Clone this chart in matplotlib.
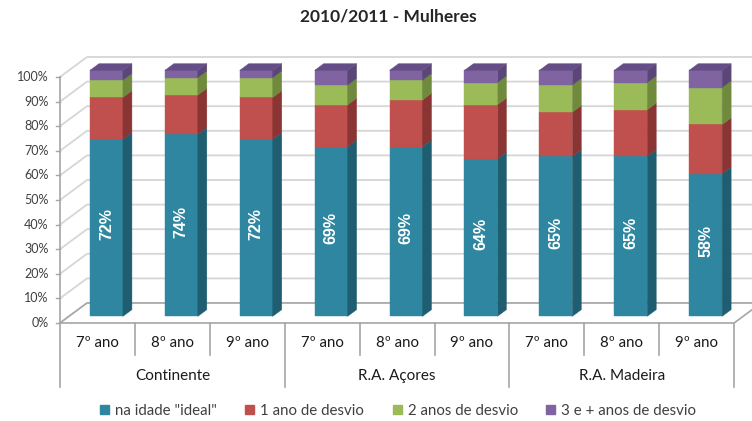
import numpy as np
import matplotlib.pyplot as plt
from matplotlib.patches import Polygon, Patch

# data (percent of each bar)
groups = ['Continente', 'R.A. Açores', 'R.A. Madeira']
years = ['7º ano', '8º ano', '9º ano']
series_names = ['na idade "ideal"', '1 ano de desvio', '2 anos de desvio', '3 e + anos de desvio']
ideal = [72, 74, 72, 69, 69, 64, 65, 65, 58]
desvio1 = [17, 16, 17, 17, 19, 22, 18, 19, 20]
desvio2 = [7, 7, 8, 8, 8, 9, 11, 11, 15]
desvio3 = [4, 3, 3, 6, 4, 5, 6, 5, 7]
yticks = [0, 10, 20, 30, 40, 50, 60, 70, 80, 90, 100]

front_colors = ['#2E86A0', '#C0504D', '#9BBB59', '#8064A2']
side_colors = ['#1F5E70', '#8A3533', '#6F8A3C', '#5B4777']
top_colors = ['#267489', '#A94542', '#84A34A', '#654E87']

# pseudo 3d projection: depth z in [0, 1] shifts up and right
DX = 27 / 74.9   # category units for full depth
DY = 20 / 2.46   # percent units for full depth


def proj(x, v, z):
  return (x + z * DX, v + z * DY)


def face(ax, pts, color, zorder=3):
  ax.add_patch(Polygon([proj(*p) for p in pts], closed=True, facecolor=color,
                       edgecolor=color, linewidth=0.3, zorder=zorder))


fig = plt.figure(figsize=(7.52, 4.21), dpi=100)
ax = fig.add_axes([0, 0, 1, 1])
# pixel mapping: x=-0.5 at px 60, 74.9 px per category; v=0 at py 323, 2.46 px per %
ax.set_xlim(-0.5 - 60 / 74.9, -0.5 + (752 - 60) / 74.9)
ax.set_ylim((323 - 421) / 2.46, 323 / 2.46)
ax.axis('off')

n = len(ideal)
x0, x1 = -0.5, n - 0.5
grid_col = '#D6D6D6'
edge_col = '#A6A6A6'

# gridlines on side wall and back wall
for v in yticks:
  pts = [proj(x0, v, 0), proj(x0, v, 1), proj(x1, v, 1)]
  ax.plot([p[0] for p in pts], [p[1] for p in pts], color=grid_col, lw=1.3, zorder=1)
  ax.plot([x0 - 0.05, x0], [v, v], color=edge_col, lw=1, zorder=2)
  ax.text(x0 - 0.15, v, '%d%%' % v, ha='right', va='center', fontsize=9,
          color='#404040', family='Lato')

# floor
floor = [proj(x0, 0, 0), proj(x1, 0, 0), proj(x1, 0, 1), proj(x0, 0, 1)]
ax.add_patch(Polygon(floor, closed=True, facecolor='white', edgecolor=edge_col, lw=1.2, zorder=1.5))
ax.plot([x0, x0], [0, 100], color=edge_col, lw=1.2, zorder=2)

# bars
hw = 0.22
za, zb = 1 / 3, 2 / 3
stack = np.array([ideal, desvio1, desvio2, desvio3], dtype=float)
bottoms = np.vstack([np.zeros(n), np.cumsum(stack, axis=0)[:-1]])
for i in range(n):
  for s in range(stack.shape[0]):
    b = bottoms[s, i]
    t = b + stack[s, i]
    face(ax, [(i - hw, b, za), (i + hw, b, za), (i + hw, t, za), (i - hw, t, za)], front_colors[s])
    face(ax, [(i + hw, b, za), (i + hw, b, zb), (i + hw, t, zb), (i + hw, t, za)], side_colors[s])
  top = bottoms[-1, i] + stack[-1, i]
  face(ax, [(i - hw, top, za), (i + hw, top, za), (i + hw, top, zb), (i - hw, top, zb)], top_colors[-1])
  cx, cy = proj(i, ideal[i] / 2 + 1.5, za)
  ax.text(cx, cy, '%d%%' % ideal[i], rotation=90, ha='center', va='center', color='white',
          fontsize=11.5, fontweight='bold', family='Liberation Sans', zorder=5)

# category table under the floor
for k in range(n + 1):
  low = -26 if k % 3 == 0 else -13
  ax.plot([x0 + k, x0 + k], [0, low], color=edge_col, lw=1.2, zorder=2)
for i in range(n):
  ax.text(i, -8.3, years[i % 3], ha='center', va='center', fontsize=10.8, color='#1a1a1a', family='Lato')
for g, name in enumerate(groups):
  ax.text(3 * g + 1, -21.6, name, ha='center', va='center', fontsize=11, color='#1a1a1a', family='Lato')

# title centred at px 388
ax.text(-0.5 + (388 - 60) / 74.9, 124.5, '2010/2011 - Mulheres', ha='center', va='center',
        fontsize=12.5, fontweight='bold', color='#262626', family='Lato')

handles = [Patch(facecolor=c, edgecolor=c) for c in front_colors]
fig.legend(handles, series_names, loc='center', bbox_to_anchor=(398 / 752, 1 - 411 / 421), ncol=4,
           frameon=False, handlelength=0.6, handleheight=0.6, handletextpad=0.4,
           columnspacing=1.9, prop={'family': 'Lato', 'size': 10.8}, labelcolor='#404040')

plt.savefig('out.png', dpi=100)
